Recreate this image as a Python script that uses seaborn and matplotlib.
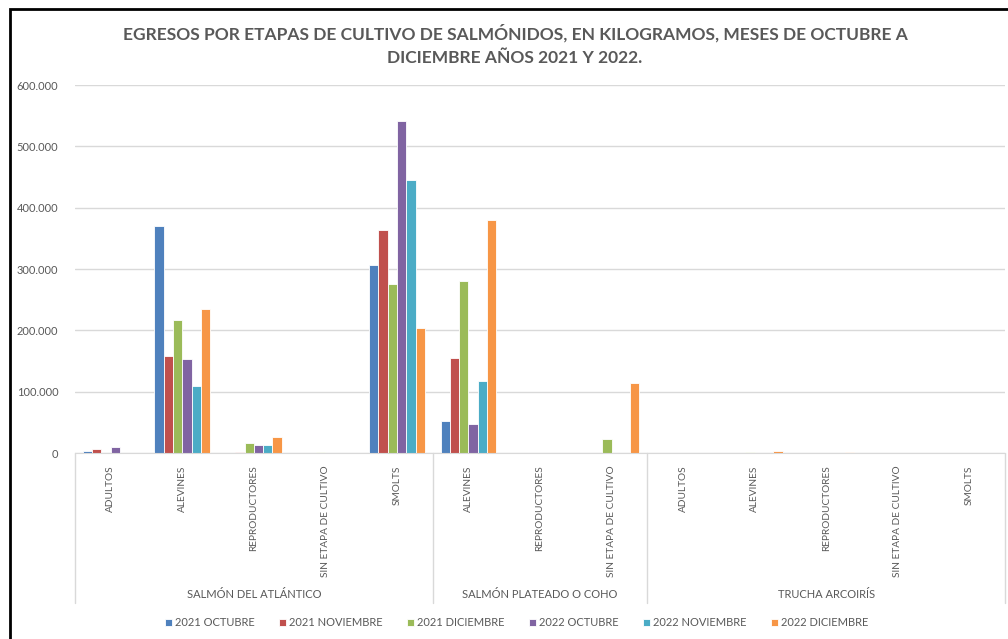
import pandas as pd
import matplotlib
matplotlib.use("Agg")
import matplotlib.pyplot as plt
import matplotlib.ticker as mticker
from matplotlib.patches import Rectangle
import seaborn as sns

# --- data (kg) ---
especies = ["SALMÓN DEL ATLÁNTICO"] * 5 + ["SALMÓN PLATEADO O COHO"] * 3 + ["TRUCHA ARCOIRÍS"] * 5
etapas = ["ADULTOS", "ALEVINES", "REPRODUCTORES", "SIN ETAPA DE CULTIVO", "SMOLTS",
          "ALEVINES", "REPRODUCTORES", "SIN ETAPA DE CULTIVO",
          "ADULTOS", "ALEVINES", "REPRODUCTORES", "SIN ETAPA DE CULTIVO", "SMOLTS"]
series = ["2021 OCTUBRE", "2021 NOVIEMBRE", "2021 DICIEMBRE",
          "2022 OCTUBRE", "2022 NOVIEMBRE", "2022 DICIEMBRE"]
oct21 = [4000, 370000, 0, 0, 307000, 52000, 0, 0, 0, 0, 0, 0, 0]
nov21 = [7000, 158000, 2000, 0, 363000, 155000, 0, 0, 0, 0, 0, 0, 0]
dic21 = [0, 217000, 16000, 2000, 276000, 281000, 0, 23000, 0, 1500, 0, 0, 0]
oct22 = [10000, 153000, 12500, 0, 541000, 47000, 0, 0, 0, 0, 0, 0, 0]
nov22 = [0, 110000, 12500, 0, 445000, 117000, 0, 0, 0, 0, 0, 0, 0]
dic22 = [0, 235000, 26000, 0, 204000, 380000, 0, 114000, 0, 4000, 1500, 0, 0]
colores = ["#4F81BD", "#C0504D", "#9BBB59", "#8064A2", "#4BACC6", "#F79646"]

# long table
keys = [f"{e}|{s}" for e, s in zip(especies, etapas)]
rows = []
for name, vals in zip(series, [oct21, nov21, dic21, oct22, nov22, dic22]):
    for k, v in zip(keys, vals):
        rows.append({"cat": k, "serie": name, "kg": v})
df = pd.DataFrame(rows)

sns.set_style("white")
plt.rcParams["font.family"] = ["Lato", "DejaVu Sans"]
gris = "#595959"

fig = plt.figure(figsize=(10.08, 6.39), dpi=100)
ax = fig.add_axes([75 / 1008, 1 - 453 / 639, 930 / 1008, 368 / 639])

sns.barplot(data=df, x="cat", y="kg", hue="serie", order=keys, hue_order=series,
            palette=colores, saturation=1, width=0.78, edgecolor="white", linewidth=0.6,
            ax=ax, legend=True)

ax.set_xlim(-0.5, len(keys) - 0.5)
ax.set_ylim(0, 600000)
ax.yaxis.set_major_locator(mticker.MultipleLocator(100000))
ax.yaxis.set_major_formatter(mticker.FuncFormatter(lambda v, p: f"{int(v):,}".replace(",", ".")))
ax.grid(axis="y", color="#d9d9d9", linewidth=1)
ax.set_axisbelow(True)
for s in ["top", "right", "left"]:
    ax.spines[s].set_visible(False)
ax.spines["bottom"].set_color("#d9d9d9")
ax.tick_params(axis="y", length=0, labelsize=8, labelcolor=gris, pad=12)
ax.tick_params(axis="x", length=0, labelsize=7.3, labelcolor=gris, pad=9)
ax.set_xticks(range(len(keys)))
ax.set_xticklabels(etapas, rotation=90, va="top", ha="center")
ax.set_xlabel("")
ax.set_ylabel("")

# group separators and group labels
tr = ax.get_xaxis_transform()
for xs in [-0.5, 4.5, 7.5, len(keys) - 0.5]:
    ax.plot([xs, xs], [0, -150 / 368], color="#d9d9d9", lw=1, transform=tr, clip_on=False)
for name, a, b in [("SALMÓN DEL ATLÁNTICO", 0, 4), ("SALMÓN PLATEADO O COHO", 5, 7),
                   ("TRUCHA ARCOIRÍS", 8, 12)]:
    ax.text((a + b) / 2, -142 / 368, name, transform=tr, ha="center", va="center",
            fontsize=8, color=gris)

# legend at the bottom
handles, labels = ax.get_legend_handles_labels()
ax.get_legend().remove()
fig.legend(handles, labels, loc="center", bbox_to_anchor=(517 / 1008, 1 - 623 / 639),
           ncol=6, frameon=False, fontsize=8, labelcolor=gris, handlelength=0.6,
           handleheight=0.6, handletextpad=0.3, columnspacing=2.2)

fig.text(515 / 1008, 1 - 45 / 639,
         "EGRESOS POR ETAPAS DE CULTIVO DE SALMÓNIDOS, EN KILOGRAMOS, MESES DE OCTUBRE A\nDICIEMBRE AÑOS 2021 Y 2022.",
         ha="center", va="center", fontsize=12.5, fontweight="bold", color=gris, linespacing=1.6)

# outer frame of the screenshot
fig.patches.append(Rectangle((10 / 1008, -0.1), 1.2, 1 - 9 / 639 + 0.1, transform=fig.transFigure,
                             fill=False, edgecolor="black", linewidth=2))

fig.savefig("out.png", dpi=100)
